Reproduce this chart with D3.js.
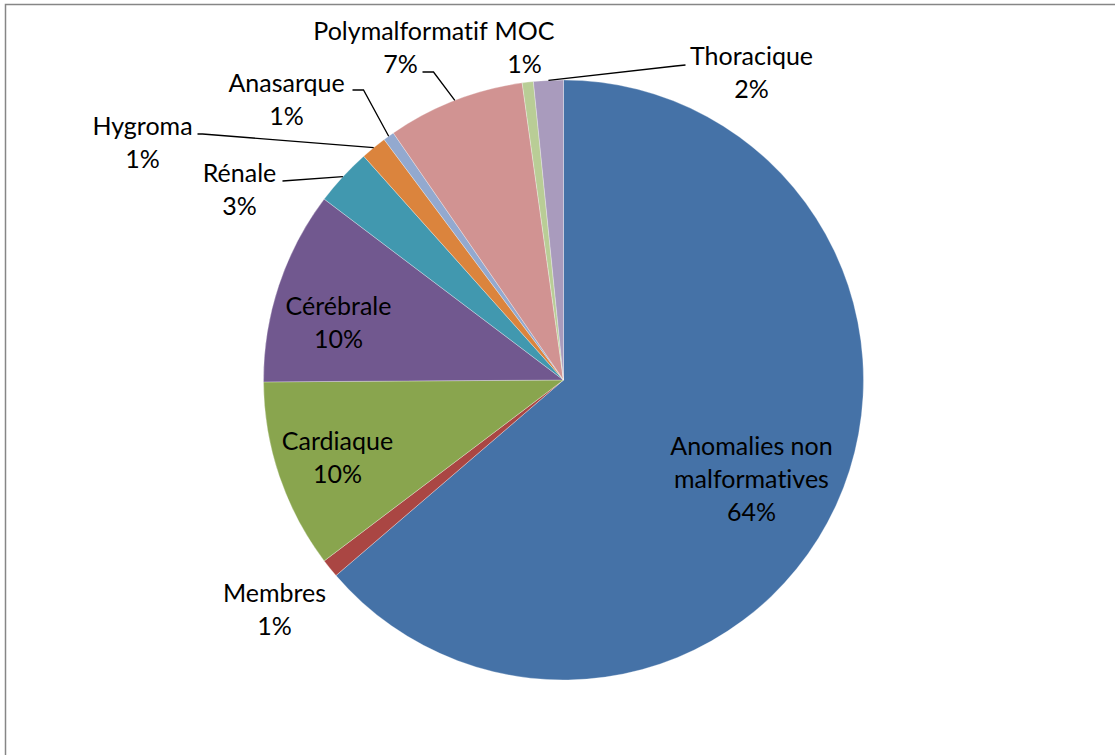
<!DOCTYPE html>

<head>
    <meta charset="UTF-8">
    <title>Pie chart</title>
    <script src="https://d3js.org/d3.v7.min.js"></script>
    <style>
        body { margin: 0; background: white; }
        text { font-family: Lato, "Open Sans", sans-serif; fill: black; font-variant-ligatures: none; }
    </style>
</head>

<body>
    <svg id="pie" height="755" width="1115"></svg>

    <script>
        // data (percent of total)
        const categories = ["Anomalies non malformatives", "Membres", "Cardiaque", "Cérébrale", "Rénale",
            "Hygroma", "Anasarque", "Polymalformatif", "MOC", "Thoracique"];
        const values = [63.7, 1.0, 10.2, 10.4, 3.1, 1.4, 0.6, 7.4, 0.6, 1.6];
        const colors = ["#4572A7", "#AA4643", "#89A54E", "#71588F", "#4198AF",
            "#DB843D", "#93A9CF", "#D19392", "#B9CD96", "#A99BBD"];

        // label layout: names wrapped over several lines, anchor = block centre x / first baseline, relative to pie centre
        const labelLines = {
            "Anomalies non malformatives": ["Anomalies non", "malformatives"],
        };
        const labelAnchor = {
            "Anomalies non malformatives": [188, 75],
            "Membres": [-289, 222],
            "Cardiaque": [-226, 70],
            "Cérébrale": [-225, -65],
            "Rénale": [-324, -198],
            "Hygroma": [-421, -245],
            "Anasarque": [-277, -288],
            "Polymalformatif": [-163, -340],
            "MOC": [-39, -340],
            "Thoracique": [188, -315]
        };
        // leader lines: which labels get one, and where the line leaves the label (relative to centre)
        const leaderStart = {
            "Rénale": [[-281, -199]],
            "Hygroma": [[-366, -246], [-361, -246]],
            "Anasarque": [[-211, -290], [-200, -290]],
            "Polymalformatif": [[-141, -308], [-130, -308]],
            "Thoracique": [[122, -315], [112, -314]]
        };

        let svg = d3.select("svg#pie");
        let width = +svg.attr("width");
        let height = +svg.attr("height");
        let cx = 563.5, cy = 380, radius = 300;
        let fontSize = 25, lineHeight = 33;

        // chart border
        svg.append("rect")
            .attr("x", 5.5).attr("y", 4.5)
            .attr("width", width + 20).attr("height", height + 20)
            .attr("fill", "white")
            .attr("stroke", "#868686")
            .attr("stroke-width", 1.5);

        let data = categories.map((c, i) => ({ name: c, value: values[i], color: colors[i] }));

        let pie = d3.pie().sort(null).value(d => d.value);
        let arc = d3.arc().innerRadius(0).outerRadius(radius);
        let edge = d3.arc().innerRadius(radius).outerRadius(radius);
        let arcs = pie(data);

        let g = svg.append("g").attr("transform", `translate(${cx},${cy})`);

        g.selectAll("path.slice").data(arcs)
            .join("path")
            .attr("class", "slice")
            .attr("d", arc)
            .attr("fill", d => d.data.color)
            .attr("stroke", "white")
            .attr("stroke-width", 0.3);

        // leader lines
        arcs.forEach(d => {
            let start = leaderStart[d.data.name];
            if (!start) return;
            let pts = start.concat([edge.centroid(d)]);
            g.append("path")
                .attr("d", d3.line()(pts))
                .attr("fill", "none")
                .attr("stroke", "black")
                .attr("stroke-width", 1.3);
        });

        // labels
        arcs.forEach(d => {
            let name = d.data.name;
            let lines = (labelLines[name] || [name]).concat([Math.round(d.data.value) + "%"]);
            let pos = labelAnchor[name];
            let t = g.append("text")
                .attr("text-anchor", "middle")
                .style("font-size", fontSize + "px");
            lines.forEach((l, i) => {
                t.append("tspan")
                    .attr("x", pos[0])
                    .attr("y", pos[1] + i * lineHeight)
                    .text(l);
            });
        });
    </script>

</body>

</html>
